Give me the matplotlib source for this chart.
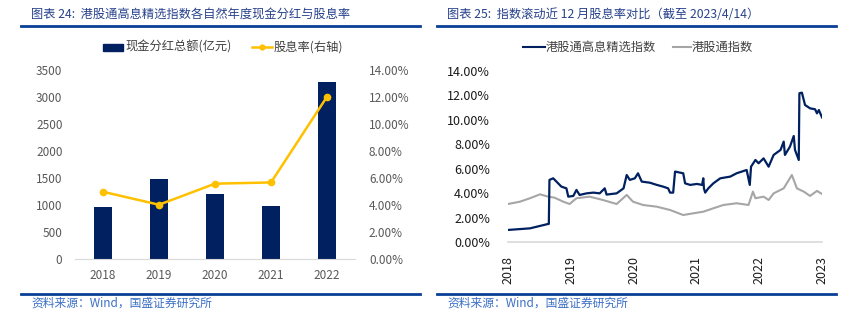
import numpy as np
import matplotlib.pyplot as plt
from matplotlib.patches import Rectangle
from matplotlib.lines import Line2D
from matplotlib.ticker import FuncFormatter

plt.rcParams['font.family'] = ['Noto Sans CJK SC', 'DejaVu Sans']

# --- left chart data ---
years = ['2018', '2019', '2020', '2021', '2022']
dividend = [955, 1480, 1196, 987, 3278]           # 现金分红总额(亿元)
div_yield = [4.98, 4.02, 5.58, 5.67, 12.02]       # 股息率(%)

# --- right chart data ---
high_x = [2018.00, 2018.35, 2018.64, 2018.65, 2018.66, 2018.72, 2018.85, 2018.93, 2018.96,
          2019.04, 2019.09, 2019.14, 2019.25, 2019.36, 2019.46, 2019.54, 2019.57, 2019.73,
          2019.84, 2019.89, 2019.94, 2020.02, 2020.07, 2020.13, 2020.26, 2020.37, 2020.47,
          2020.55, 2020.58, 2020.63, 2020.66, 2020.79, 2020.82, 2020.90, 2021.01, 2021.09,
          2021.11, 2021.12, 2021.14, 2021.19, 2021.27, 2021.38, 2021.54, 2021.64, 2021.80,
          2021.85, 2021.87, 2021.94, 2021.99, 2022.07, 2022.15, 2022.23, 2022.34, 2022.39,
          2022.41, 2022.49, 2022.55, 2022.57, 2022.63, 2022.64, 2022.68, 2022.73, 2022.81,
          2022.89, 2022.92, 2022.95, 2023.00]
high_y = [1.01, 1.14, 1.50, 1.50, 5.10, 5.23, 4.55, 4.41, 3.73,
          3.79, 4.28, 3.87, 4.00, 4.06, 4.00, 4.41, 3.90, 4.00,
          4.41, 5.50, 5.10, 5.23, 5.64, 4.96, 4.87, 4.69, 4.55,
          4.41, 4.06, 4.06, 5.78, 5.64, 4.82, 4.69, 4.77, 4.69,
          5.23, 4.41, 4.06, 4.41, 4.82, 5.23, 5.37, 5.64, 5.91,
          4.69, 6.18, 6.73, 6.46, 6.86, 6.18, 7.14, 7.55, 8.23,
          7.14, 7.82, 8.69, 7.55, 6.73, 12.18, 12.23, 11.22, 10.95,
          10.87, 10.54, 10.81, 10.21]

hk_x = [2018.00, 2018.19, 2018.35, 2018.51, 2018.64, 2018.74, 2018.88, 2018.98, 2019.09,
        2019.30, 2019.51, 2019.73, 2019.89, 2019.99, 2020.15, 2020.37, 2020.58, 2020.79,
        2020.95, 2021.11, 2021.27, 2021.43, 2021.64, 2021.83, 2021.90, 2021.94, 2022.07,
        2022.15, 2022.23, 2022.39, 2022.52, 2022.60, 2022.71, 2022.81, 2022.92, 2023.00]
hk_y = [3.13, 3.32, 3.60, 3.92, 3.73, 3.65, 3.32, 3.13, 3.60,
        3.73, 3.46, 3.13, 3.87, 3.32, 3.05, 2.91, 2.64, 2.23,
        2.37, 2.50, 2.78, 3.05, 3.19, 3.05, 4.14, 3.60, 3.73,
        3.46, 4.00, 4.41, 5.50, 4.41, 4.14, 3.79, 4.20, 3.95]

NAVY = '#002060'
GOLD = '#FFC000'
GREY = '#A6A6A6'
RULE = '#0A3F96'
TITLE_C = '#27418C'
TICK_C = '#595959'

W, H = 864, 330
fig = plt.figure(figsize=(W / 100, H / 100), dpi=100)


def fx(x):
    return x / W


def fy(y):
    return 1 - y / H


def axes_px(l, t, r, b):
    return fig.add_axes([fx(l), fy(b), (r - l) / W, (b - t) / H])


# headers, rules and source lines for both panels
for x0, x1, title in [(21, 420, '图表 24:  港股通高息精选指数各自然年度现金分红与股息率'),
                      (437, 836, '图表 25:  指数滚动近 12 月股息率对比（截至 2023/4/14）')]:
    fig.text(fx(x0 + 10), fy(14), title, fontsize=8.8, color=TITLE_C, va='center', ha='left')
    fig.add_artist(Line2D([fx(x0), fx(x1)], [fy(26), fy(26)], color=RULE, lw=2))
    fig.add_artist(Line2D([fx(x0), fx(x1)], [fy(294), fy(294)], color=RULE, lw=2))
    fig.text(fx(x0 + 10), fy(303), '资料来源：Wind，国盛证券研究所', fontsize=8.5,
             color='#3A6FC4', va='center', ha='left')

# ---------------- left chart ----------------
ax1 = axes_px(75, 70, 355, 259)
x = np.arange(len(years))
ax1.bar(x, dividend, width=0.33, color=NAVY, zorder=2)
ax1.set_xlim(-0.5, 4.5)
ax1.set_ylim(0, 3500)
ax1.set_yticks(np.arange(0, 3501, 500))
ax1.set_xticks(x)
ax1.set_xticklabels(years)
for s in ['top', 'right', 'left']:
    ax1.spines[s].set_visible(False)
ax1.spines['bottom'].set_color('#D9D9D9')
ax1.tick_params(length=0, labelsize=8.5, colors=TICK_C, pad=9)
ax1.tick_params(axis='x', pad=7)

ax1b = ax1.twinx()
ax1b.plot(x, div_yield, color=GOLD, lw=1.8, marker='o', ms=4.5, zorder=3)
ax1b.set_ylim(0, 14)
ax1b.set_yticks(np.arange(0, 14.1, 2))
ax1b.yaxis.set_major_formatter(FuncFormatter(lambda v, p: f'{v:.2f}%'))
for s in ['top', 'right', 'left', 'bottom']:
    ax1b.spines[s].set_visible(False)
ax1b.tick_params(length=0, labelsize=8.5, colors=TICK_C, pad=10)

# left legend
fig.add_artist(Rectangle((fx(103), fy(51)), 20 / W, 7 / H, color=NAVY))
fig.text(fx(125), fy(47), '现金分红总额(亿元)', fontsize=8.8, color='#404040', va='center')
fig.add_artist(Line2D([fx(252), fx(272)], [fy(47), fy(47)], color=GOLD, lw=1.8))
fig.add_artist(Line2D([fx(262)], [fy(47)], color=GOLD, marker='o', ms=3.5))
fig.text(fx(274), fy(47), '股息率(右轴)', fontsize=8.8, color='#404040', va='center')

# ---------------- right chart ----------------
ax2 = axes_px(508, 71, 822, 242.3)
ax2.plot(hk_x, hk_y, color=GREY, lw=1.5)
ax2.plot(high_x, high_y, color=NAVY, lw=1.6)
ax2.set_xlim(2018, 2023)
ax2.set_ylim(0, 14)
ax2.set_yticks(np.arange(0, 14.1, 2))
ax2.yaxis.set_major_formatter(FuncFormatter(lambda v, p: f'{v:.2f}%'))
ax2.set_xticks(range(2018, 2024))
ax2.set_xticklabels([str(y) for y in range(2018, 2024)], rotation=90)
for s in ['top', 'right', 'left']:
    ax2.spines[s].set_visible(False)
ax2.spines['bottom'].set_color('#D9D9D9')
ax2.spines['bottom'].set_linewidth(1.2)
ax2.tick_params(length=0, labelsize=9, colors='#1A1A1A', pad=13)
ax2.tick_params(axis='x', pad=10)

# right legend
fig.add_artist(Line2D([fx(523), fx(545)], [fy(47), fy(47)], color=NAVY, lw=1.5))
fig.text(fx(546), fy(47), '港股通高息精选指数', fontsize=8.8, color='#404040', va='center')
fig.add_artist(Line2D([fx(673), fx(691)], [fy(47), fy(47)], color=GREY, lw=1.5))
fig.text(fx(692), fy(47), '港股通指数', fontsize=8.8, color='#404040', va='center')

fig.savefig('out.png', dpi=100)
